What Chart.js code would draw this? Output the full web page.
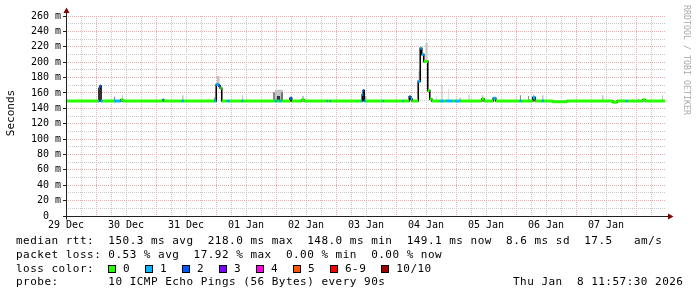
<!DOCTYPE html>
<html><head><meta charset="utf-8">
<title>SmokePing 10 day median RTT</title>
<script src="https://cdn.jsdelivr.net/npm/chart.js@4/dist/chart.umd.min.js"></script>
<style>
html,body{margin:0;padding:0;background:#fff;}
#wrap{position:relative;width:697px;height:297px;overflow:hidden;background:#fff;}
#c{position:absolute;left:0;top:0;}
.mono{font-family:"DejaVu Sans Mono",monospace;color:#000;}
#ytitle{position:absolute;left:-14px;top:106px;width:50px;height:14px;text-align:center;font-size:11px;line-height:14px;font-weight:normal;white-space:pre;transform:rotate(-90deg);}
#wm{position:absolute;left:691px;top:5px;font-size:8.3px;line-height:8.3px;color:#aaa;white-space:pre;transform-origin:0 0;transform:rotate(90deg);}
#legend{position:absolute;left:16px;top:234.3px;font-size:11px;line-height:13.7px;letter-spacing:0.48px;}
.row{position:relative;height:13.7px;white-space:pre;}
.box{position:absolute;top:3.3px;width:6px;height:6px;border:1px solid #000;}
.lbl{position:absolute;top:0;}
#date{position:absolute;left:497px;top:0;}
</style>
</head><body>
<div id="wrap">
<canvas id="c" width="697" height="297"></canvas>
<div id="ytitle" class="mono">Seconds</div>
<div id="wm" class="mono">RRDTOOL / TOBI OETIKER</div>
<div id="legend" class="mono"><div class="row">median rtt:  150.3 ms avg  218.0 ms max  148.0 ms min  149.1 ms now  8.6 ms sd  17.5   am/s</div><div class="row">packet loss: 0.53 % avg  17.92 % max  0.00 % min  0.00 % now</div><div class="row" id="lossrow">loss color:</div><div class="row">probe:       10 ICMP Echo Pings (56 Bytes) every 90s<span id="date">Thu Jan  8 11:57:30 2026</span></div></div>
</div>
<script>
// ---- data (hours since 29 Dec 12:00) ----
const dayLabels = ['29 Dec','30 Dec','31 Dec','01 Jan','02 Jan','03 Jan','04 Jan','05 Jan','06 Jan','07 Jan'];
const yTickLabels = ['0  ','20 m','40 m','60 m','80 m','100 m','120 m','140 m','160 m','180 m','200 m','220 m','240 m','260 m'];

// median rtt: segment start hour, rtt (ms), lost pings (of 10)
const medianStart = [0.0,12.8,13.2,13.6,14.0,14.8,19.3,21.9,22.7,38.7,39.1,46.3,47.1,59.3,60.1,61.1,61.7,62.3,64.3,65.5,70.3,70.9,83.5,84.5,85.3,86.3,89.6,90.3,94.3,95.3,104.3,104.7,105.5,105.9,117.9,118.5,118.9,119.3,119.9,126.7,127.1,134.7,135.1,137.3,137.9,138.5,140.9,141.7,142.3,143.1,144.7,145.5,146.3,149.5,151.1,151.9,154.7,155.5,157.7,166.3,167.3,170.9,171.9,181.5,182.3,186.7,187.7,190.3,191.1,194.7,200.3,218.7,220.5,223.9,224.7,230.7,231.7];
const medianRtt   = [149.5,149.5,166,169,149.5,149.5,149.5,151,149.5,151,149.5,149.5,149.5,149.5,171,169,166,149.5,149.5,149.5,149.5,149.5,149.5,149.5,149.5,149.5,153,149.5,151,149.5,149.5,149.5,149.5,149.5,149.5,158,163,149.5,149.5,149.5,149.5,149.5,149.5,155,152,149.5,175,218,210,201,163,152,149.5,149.5,149.5,149.5,149.5,149.5,149.5,152,149.5,153,149.5,149.5,149.5,154,149.5,149.5,149.5,148.5,149.5,148,149.5,149.5,149.5,151,149.5];
const medianLoss  = [0,1,2,2,1,0,1,0,0,1,0,1,0,1,1,2,0,0,1,0,1,0,1,0,1,0,2,0,0,0,1,0,1,0,1,1,2,1,0,1,0,1,0,2,1,0,1,1,1,0,0,0,0,1,0,1,0,1,0,0,0,1,0,1,0,1,0,1,0,0,0,0,0,1,0,0,0];
const medianEnd = 239.6;

// smoke (spread of the 10 pings): start hour, end hour, low, high
const smokeStart = [22.3,46.3,60.3,70.3,83.5,94.3,119.3,140.9,143.7,148.1,150.1,152.7,157.3,160.9,166.3,190.3,214.3,238.3];
const smokeEnd   = [22.9,47.1,61.5,70.9,86.9,95.3,120.3,141.7,144.7,148.5,150.7,153.1,158.1,161.5,167.1,191.1,215.1,238.9];
const smokeLow   = [149.5,149.5,170,149.5,149.5,149.5,149.5,175,200,149.5,149.5,149.5,149.5,149.5,149.5,149.5,149.5,149.5];
const smokeHigh  = [157,157,182,157,164,156,156,188,225,156,171,165,154,158,157,157,157,157];
// dense smoke core
const denseStart = [19.3,59.3,82.9,84.3,86.1,118.7,181.5,184.9,186.9,228.9];
const denseEnd   = [19.7,59.7,83.5,85.7,86.7,119.3,181.9,185.3,187.3,229.3];
const denseLow   = [149.5,149.5,149.5,149.5,149.5,149.5,149.5,149.5,149.5,149.5];
const denseHigh  = [155,154,161,156,161,164,157,156,157,152];

const lossClasses = ['0','1','2','3','4','5','6-9','10/10'];
const lossColors  = ['#26ff00','#00b8ff','#0059ff','#7e00ff','#ff00e5','#ff5500','#ff0000','#a10000'];

// ---- build datasets ----
function lossClassIndex(n){ return n <= 5 ? n : (n < 10 ? 6 : 7); }
const datasets = [];
smokeStart.forEach((s,i)=>{
  datasets.push({data:[{x:s,y:smokeHigh[i]},{x:smokeEnd[i],y:smokeHigh[i]}], fill:{value:smokeLow[i]},
    backgroundColor:'#c4c4c4', borderColor:'rgba(0,0,0,0)', borderWidth:0, pointRadius:0, order:4});
});
denseStart.forEach((s,i)=>{
  datasets.push({data:[{x:s,y:denseHigh[i]},{x:denseEnd[i],y:denseHigh[i]}], fill:{value:denseLow[i]},
    backgroundColor:'#333333', borderColor:'rgba(0,0,0,0)', borderWidth:0, pointRadius:0, order:3});
});
const stepPts = medianStart.map((s,i)=>({x:s,y:medianRtt[i]}));
stepPts.push({x:medianEnd,y:medianRtt[medianRtt.length-1]});
datasets.push({data:stepPts, stepped:true, borderColor:'#000', borderWidth:1.6, pointRadius:0, fill:false, order:1});
const perClass = lossClasses.map(()=>[]);
medianStart.forEach((s,i)=>{
  const e = i+1 < medianStart.length ? medianStart[i+1] : medianEnd;
  const k = lossClassIndex(medianLoss[i]);
  perClass[k].push({x:s,y:medianRtt[i]},{x:e,y:medianRtt[i]},{x:e,y:null});
});
perClass.forEach((pts,k)=>{
  if (!pts.length) return;
  datasets.push({data:pts, borderColor:lossColors[k], borderWidth:3, borderCapStyle:'butt', pointRadius:0, fill:false, spanGaps:false, order:0});
});

// ---- legend boxes ----
const row = document.getElementById('lossrow');
let lx = 92;
lossClasses.forEach((c,k)=>{
  const b = document.createElement('span'); b.className='box'; b.style.left = lx+'px'; b.style.background = lossColors[k]; row.appendChild(b);
  const t = document.createElement('span'); t.className='lbl'; t.style.left = (lx+15)+'px'; t.textContent = c; row.appendChild(t);
  lx += 15 + c.length*7.1 + 14.9;
});

const axisPlugin = {
  id:'rrdAxes',
  afterDatasetsDraw(chart){
    const {ctx, chartArea:a, scales:{x,y}} = chart;
    const x0 = Math.round(x.getPixelForValue(0)) + 0.5;
    const y0 = Math.round(y.getPixelForValue(0)) + 0.5;
    ctx.save();
    ctx.strokeStyle = '#202020'; ctx.lineWidth = 1;
    ctx.beginPath();
    ctx.moveTo(x0, y0 + 3); ctx.lineTo(x0, a.top - 3);
    ctx.moveTo(x0 - 3.5, y0); ctx.lineTo(a.right + 2, y0);
    ctx.stroke();
    ctx.fillStyle = '#800000';
    ctx.beginPath(); ctx.moveTo(x0-3, a.top-3); ctx.lineTo(x0+3, a.top-3); ctx.lineTo(x0, a.top-8.5); ctx.closePath(); ctx.fill();
    ctx.beginPath(); ctx.moveTo(a.right+2, y0-3); ctx.lineTo(a.right+2, y0+3); ctx.lineTo(a.right+7.5, y0); ctx.closePath(); ctx.fill();
    ctx.restore();
  }
};

const tickFont = {family:'DejaVu Sans Mono', size:10};
const minorGrid = '#c8c8c8', majorGrid = '#f0a8a8';
new Chart(document.getElementById('c'), {
  type:'line',
  data:{datasets},
  options:{
    responsive:false, animation:false, devicePixelRatio:1,
    layout:{padding:{left:0, top:16, right:31, bottom:0}},
    plugins:{legend:{display:false}, tooltip:{enabled:false}},
    scales:{
      x:{type:'linear', min:0, max:240,
        afterFit(s){ s.height = 81; },
        grid:{drawTicks:false, lineWidth:1,
          color:c=>{ if(!c.tick) return 'rgba(0,0,0,0)'; const v=c.tick.value; if(v<=0||v>=240) return 'rgba(0,0,0,0)'; return ((v-12)%24===0)?majorGrid:minorGrid; }},
        border:{display:false, dash:[1,1]},
        ticks:{stepSize:6, autoSkip:false, maxRotation:0, minRotation:0, padding:3, color:'#000', font:tickFont,
          callback:v=>(v%24===0 && v/24 < dayLabels.length) ? dayLabels[v/24] : ''}
      },
      y:{min:0, max:260,
        afterFit(s){ s.width = 66; },
        grid:{drawTicks:true, tickLength:3, lineWidth:1, tickBorderDash:[],
          tickColor:c=>(c.tick && c.tick.value%20===0)?'#202020':'rgba(0,0,0,0)',
          color:c=>{ if(!c.tick) return 'rgba(0,0,0,0)'; const v=c.tick.value; if(v<=0) return 'rgba(0,0,0,0)'; return (v%20===0)?majorGrid:minorGrid; }},
        border:{display:false, dash:[1,1]},
        ticks:{stepSize:10, autoSkip:false, padding:2, color:'#000', font:tickFont,
          callback:v=>(v%20===0) ? yTickLabels[v/20] : ''}
      }
    }
  },
  plugins:[axisPlugin]
});
</script>
</body></html>
